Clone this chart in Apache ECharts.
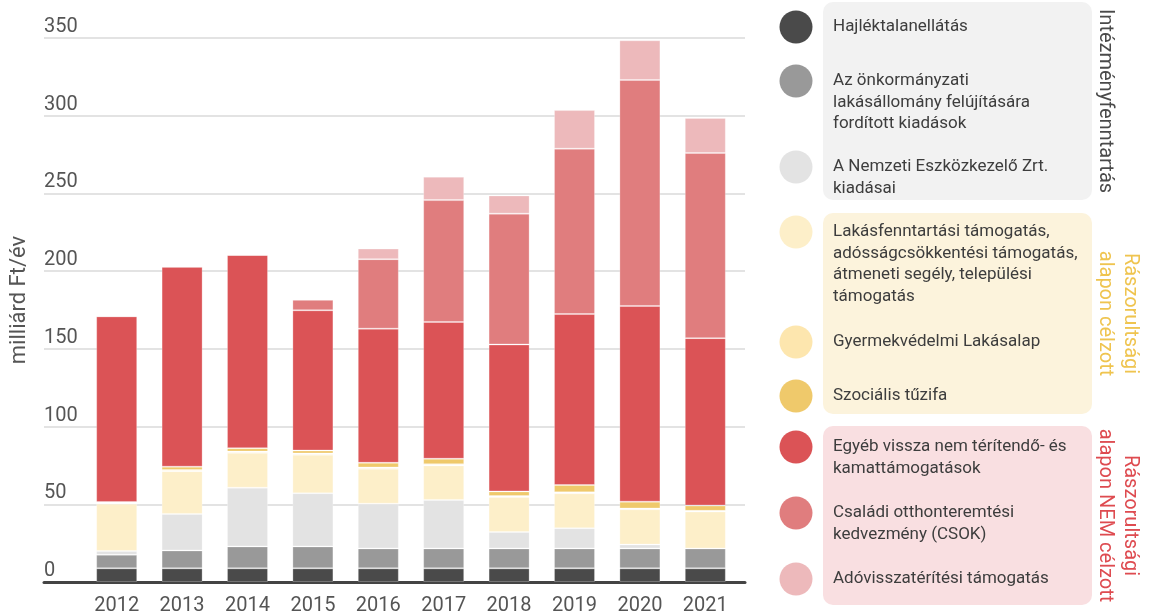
<!DOCTYPE html>
<html>
<head>
<meta charset="utf-8">
<title>Lakhatási kiadások</title>
<script src="https://cdn.jsdelivr.net/npm/echarts@6.0.0/dist/echarts.min.js"></script>
<style>
  html, body { margin: 0; padding: 0; background: #fff; }
  #chart { width: 1150px; height: 616px; }
</style>
</head>
<body>
<div id="chart"></div>
<script>
// years on the x axis
let years = ['2012', '2013', '2014', '2015', '2016', '2017', '2018', '2019', '2020', '2021'];

// values, milliárd Ft/év
let hajlektalan = [8.8, 8.8, 8.8, 8.8, 8.8, 8.8, 8.8, 8.8, 8.8, 8.8];
let onkormanyzati = [8.7, 11.5, 14.1, 14.1, 12.8, 12.8, 12.8, 12.8, 12.8, 12.8];
let nemzeti = [2.5, 23.5, 37.8, 34.2, 28.8, 31.2, 10.5, 13, 2.5, 0];
let lakasfenntartasi = [30.4, 27.5, 22.4, 24.8, 22.5, 22.2, 22.6, 22.5, 22.7, 23.7];
let gyermekvedelmi = [0.5, 0.8, 0.8, 0.8, 0.8, 0.8, 0.6, 0.6, 0.5, 0.5];
let tuzifa = [0.5, 2.1, 2.2, 1.9, 3.0, 3.5, 3.0, 4.7, 4.4, 3.4];
let egyeb = [119.5, 128.6, 124.3, 90.2, 86.3, 88, 94.5, 110, 125.9, 107.7];
let csok = [0, 0, 0, 6.8, 44.7, 78.4, 84.2, 106.4, 145.4, 119.1];
let ado = [0, 0, 0, 0, 6.8, 15, 11.7, 24.8, 25.5, 22.5];

// y axis
let yMin = 0;
let yMax = 350;
let yStep = 50;

let seriesNames = [
    'Hajléktalanellátás',
    'Az önkormányzati lakásállomány felújítására fordított kiadások',
    'A Nemzeti Eszközkezelő Zrt. kiadásai',
    'Lakásfenntartási támogatás, adósságcsökkentési támogatás, átmeneti segély, települési támogatás',
    'Gyermekvédelmi Lakásalap',
    'Szociális tűzifa',
    'Egyéb vissza nem térítendő- és kamattámogatások',
    'Családi otthonteremtési kedvezmény (CSOK)',
    'Adóvisszatérítési támogatás'
];
let legendLabels = [
    'Hajléktalanellátás',
    'Az önkormányzati\nlakásállomány felújítására\nfordított kiadások',
    'A Nemzeti Eszközkezelő Zrt.\nkiadásai',
    'Lakásfenntartási támogatás,\nadósságcsökkentési támogatás,\nátmeneti segély, települési\ntámogatás',
    'Gyermekvédelmi Lakásalap',
    'Szociális tűzifa',
    'Egyéb vissza nem térítendő- és\nkamattámogatások',
    'Családi otthonteremtési\nkedvezmény (CSOK)',
    'Adóvisszatérítési támogatás'
];
let groupLabels = ['Intézményfenntartás', 'Rászorultsági\nalapon célzott', 'Rászorultsági\nalapon NEM célzott'];

let seriesData = [hajlektalan, onkormanyzati, nemzeti, lakasfenntartasi, gyermekvedelmi, tuzifa, egyeb, csok, ado];
let colors = ['#4a4a4a', '#999999', '#e3e3e3', '#fdefc9', '#fde6ae', '#efc96b', '#db5356', '#e07d7e', '#edb9bb'];

let font = 'Roboto, "Noto Sans", sans-serif';

let chart = echarts.init(document.getElementById('chart'));

// legend layout (circle centre y for each item, group boxes)
let itemY = [27, 81, 167, 232, 342, 396, 447, 513, 579];
let boxes = [
    { y: 2, h: 198, fill: '#f2f2f2', label: groupLabels[0], color: '#4a4a4a' },
    { y: 213, h: 201, fill: '#fcf3dc', label: groupLabels[1], color: '#efc44f' },
    { y: 426, h: 179, fill: '#f9dfe1', label: groupLabels[2], color: '#de4b50' }
];

let graphics = [];
boxes.forEach(function (b) {
    graphics.push({
        type: 'rect',
        shape: { x: 823, y: b.y, width: 269, height: b.h, r: 10 },
        style: { fill: b.fill },
        silent: true
    });
    graphics.push({
        type: 'text',
        x: 1092,
        y: b.y + b.h / 2,
        rotation: -Math.PI / 2,
        style: {
            text: b.label,
            fill: b.color,
            font: '20px ' + font,
            align: 'center',
            verticalAlign: 'bottom',
            lineHeight: 25
        },
        silent: true
    });
});
legendLabels.forEach(function (label, i) {
    graphics.push({
        type: 'circle',
        shape: { cx: 796, cy: itemY[i], r: 16.5 },
        style: { fill: colors[i] },
        silent: true
    });
    graphics.push({
        type: 'text',
        x: 833,
        y: itemY[i] - 11,
        style: {
            text: label,
            fill: '#3d3d3d',
            font: '17px ' + font,
            verticalAlign: 'top',
            lineHeight: 21.5
        },
        silent: true
    });
});

let series = seriesData.map(function (data, i) {
    return {
        name: seriesNames[i],
        type: 'bar',
        stack: 'total',
        xAxisIndex: 1,
        yAxisIndex: 1,
        barWidth: 41,
        data: data,
        itemStyle: {
            color: colors[i],
            borderColor: 'rgba(255,255,255,0.25)',
            borderWidth: 1
        }
    };
});

let option = {
    backgroundColor: '#ffffff',
    animation: false,
    grid: [
        { left: 42, right: 405, top: 38, bottom: 34 },
        { left: 84, right: 412, top: 38, bottom: 34 }
    ],
    xAxis: [
        {
            gridIndex: 0,
            type: 'category',
            data: years,
            axisLine: { show: true, lineStyle: { color: '#444444', width: 3 } },
            axisTick: { show: false },
            axisLabel: { show: false },
            splitLine: { show: false }
        },
        {
            gridIndex: 1,
            type: 'category',
            data: years,
            axisLine: { show: false },
            axisTick: { show: false },
            axisLabel: {
                color: '#555555',
                fontFamily: font,
                fontSize: 20,
                margin: 14
            }
        }
    ],
    yAxis: [
        {
            gridIndex: 0,
            type: 'value',
            min: yMin,
            max: yMax,
            interval: yStep,
            name: 'milliárd Ft/év',
            nameLocation: 'middle',
            nameGap: 14,
            nameTextStyle: { color: '#555555', fontFamily: font, fontSize: 22, padding: [0, 0, 0, 20] },
            axisLine: { show: false },
            axisTick: { show: false },
            axisLabel: {
                inside: true,
                margin: 0,
                color: '#555555',
                fontFamily: font,
                fontSize: 20,
                verticalAlign: 'bottom',
                lineHeight: 18,
                padding: [0, 0, 2, 0]
            },
            splitLine: { lineStyle: { color: '#e3e3e3', width: 2 } }
        },
        {
            gridIndex: 1,
            type: 'value',
            min: yMin,
            max: yMax,
            interval: yStep,
            show: false,
            splitLine: { show: false }
        }
    ],
    series: series,
    graphic: graphics
};

chart.setOption(option);
</script>
</body>
</html>
